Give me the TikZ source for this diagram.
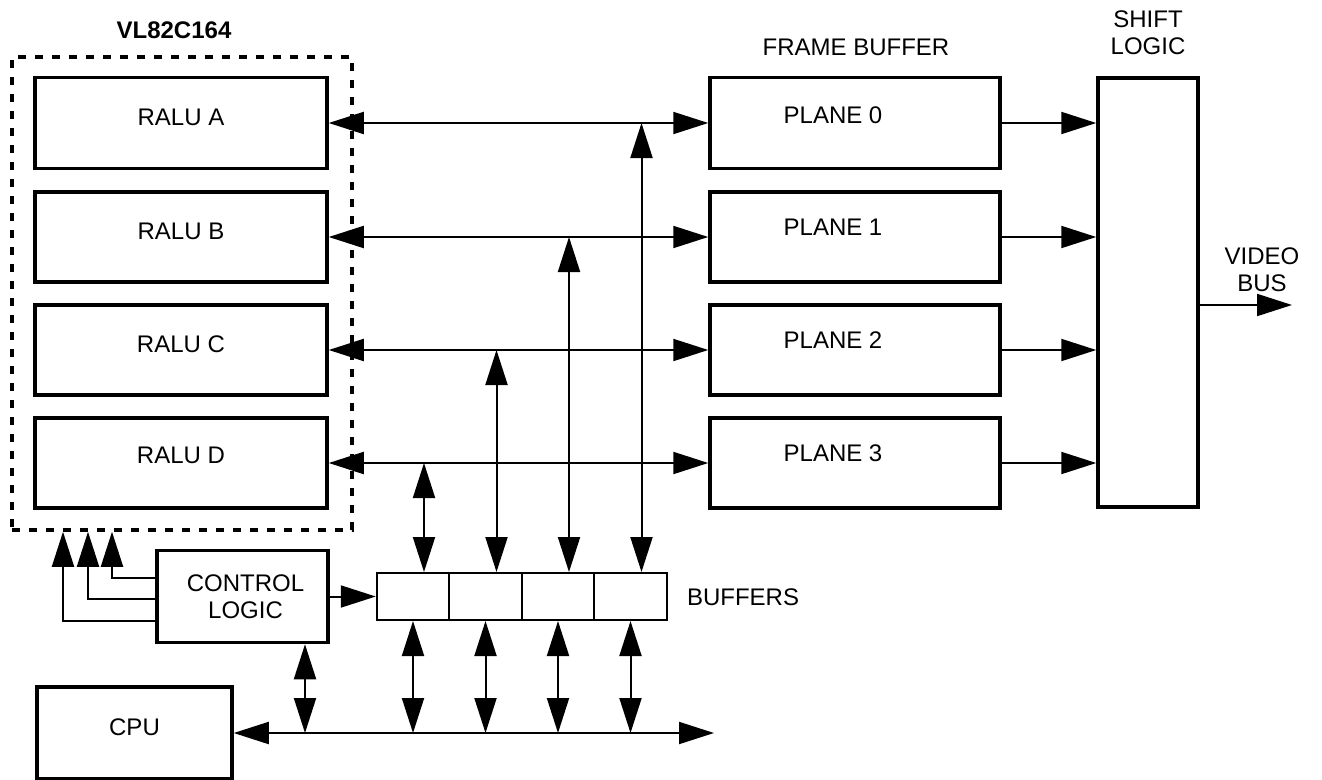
\documentclass[tikz,border=0pt]{standalone}
\usepackage{fontspec}
\setmainfont{Liberation Sans}
\usetikzlibrary{arrows.meta,calc}
\begin{document}
\begin{tikzpicture}[x=1pt,y=-1pt,
  box/.style={draw,line width=3.5pt,minimum width=#1,inner sep=0pt},
  bufbox/.style={draw,line width=2pt,minimum width=72.5pt,minimum height=47pt,inner sep=0pt},
  lbl/.style={font=\fontsize{24}{27}\selectfont,inner sep=0pt,align=center},
  conn/.style={line width=2pt},
  both/.style={conn,{Triangle[length=35pt,width=22pt]}-{Triangle[length=35pt,width=22pt]}},
  one/.style={conn,-{Triangle[length=35pt,width=22pt]}},
  ]
\useasboundingbox (0,0) rectangle (1322,779);
% chip
\node[draw,line width=3.5pt,dash pattern=on 8pt off 9pt,minimum width=340pt,minimum height=473pt,inner sep=0pt] (chip) at (182,293.5) {};
\node[lbl,font=\fontsize{24}{27}\selectfont\bfseries] (chiplbl) at (174,30) {VL82C164};
% RALUs
\node[box=292pt,minimum height=91pt] (ralua) at (181,123) {};
\node[box=292pt,minimum height=90pt] (ralub) at (181,237) {};
\node[box=292pt,minimum height=90pt] (raluc) at (181,350) {};
\node[box=292pt,minimum height=90pt] (ralud) at (181,463) {};
\node[lbl] (la) at ([yshift=6pt]ralua.center) {RALU A};
\node[lbl] (lb) at ([yshift=6pt]ralub.center) {RALU B};
\node[lbl] (lc) at ([yshift=6pt]raluc.center) {RALU C};
\node[lbl] (ld) at ([yshift=8pt]ralud.center) {RALU D};
% planes
\node[box=290pt,minimum height=91pt] (p0) at (855,123) {};
\node[box=290pt,minimum height=90pt] (p1) at (855,237) {};
\node[box=290pt,minimum height=90pt] (p2) at (855,350) {};
\node[box=290pt,minimum height=90pt] (p3) at (855,463) {};
\node[lbl] (lp0) at ([shift={(-22,-8)}]p0.center) {PLANE 0};
\node[lbl] (lp1) at ([shift={(-22,-10)}]p1.center) {PLANE 1};
\node[lbl] (lp2) at ([shift={(-22,-10)}]p2.center) {PLANE 2};
\node[lbl] (lp3) at ([shift={(-22,-10)}]p3.center) {PLANE 3};
\node[lbl] (fb) at (856,47) {FRAME BUFFER};
% shift logic
\node[box=100pt,minimum height=429pt] (shift) at (1148,292.5) {};
\node[lbl] (sl) at (1148,33) {SHIFT\\LOGIC};
\node[lbl] (vb) at (1262,270) {VIDEO\\BUS};
\coordinate (vbend) at (1292,305);
% buffers
\node[bufbox] (b1) at (413,596.5) {};
\node[bufbox] (b2) at (485.5,596.5) {};
\node[bufbox] (b3) at (558,596.5) {};
\node[bufbox] (b4) at (630.5,596.5) {};
\node[lbl] (bl) at (743,597) {BUFFERS};
% control logic, cpu
\node[box=171pt,minimum height=92pt] (ctrl) at (242.5,596.5) {};
\node[lbl] (lctrl) at ([xshift=3pt]ctrl.center) {CONTROL\\LOGIC};
\node[box=195pt,minimum height=92pt] (cpu) at (134.5,733) {};
\node[lbl] (lcpu) at ([yshift=6pt]cpu.center) {CPU};
\coordinate (busend) at (714,733);

% RALU <-> plane buses
\draw[both] (ralua.east) -- (p0.west);
\draw[both] (ralub.east) -- (p1.west);
\draw[both] (raluc.east) -- (p2.west);
\draw[both] (ralud.east) -- (p3.west);
% planes -> shift
\draw[one] (p0.east) -- (p0.east -| shift.west);
\draw[one] (p1.east) -- (p1.east -| shift.west);
\draw[one] (p2.east) -- (p2.east -| shift.west);
\draw[one] (p3.east) -- (p3.east -| shift.west);
\draw[one] (shift.east |- vbend) -- (vbend);
% buffers up to buses
\draw[both] ([xshift=11pt]b1.north |- ralud.east) -- ([xshift=11pt]b1.north);
\draw[both] ([xshift=11pt]b2.north |- raluc.east) -- ([xshift=11pt]b2.north);
\draw[both] ([xshift=11pt]b3.north |- ralub.east) -- ([xshift=11pt]b3.north);
\draw[both] ([xshift=11pt]b4.north |- ralua.east) -- ([xshift=11pt]b4.north);
% buffers down to cpu bus
\draw[both] (b1.south) -- (b1.south |- busend);
\draw[both] (b2.south) -- (b2.south |- busend);
\draw[both] (b3.south) -- (b3.south |- busend);
\draw[both] (b4.south) -- (b4.south |- busend);
% cpu bus
\draw[both] (cpu.east) -- (busend);
\draw[both] ([xshift=62.5pt]ctrl.south) -- ([xshift=62.5pt]ctrl.south |- busend);
% control
\draw[one] (ctrl.east) -- (b1.west);
\draw[one] ([yshift=19pt]ctrl.west) -| ([xshift=-70pt]chip.south);
\draw[one] ([yshift=-2pt]ctrl.west) -| ([xshift=-94pt]chip.south);
\draw[one] ([yshift=-24pt]ctrl.west) -| ([xshift=-119pt]chip.south);
\end{tikzpicture}
\end{document}
